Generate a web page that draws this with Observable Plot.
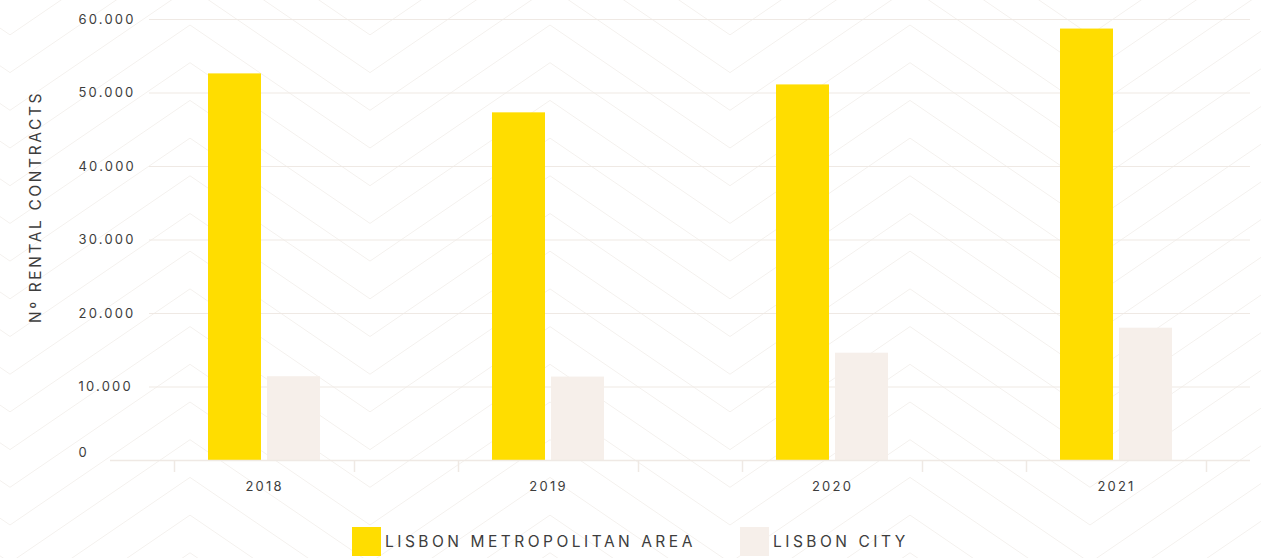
<!DOCTYPE html>
<html>
<head>
<meta charset="utf-8">
<script src="https://cdn.jsdelivr.net/npm/d3@7"></script>
<script src="https://cdn.jsdelivr.net/npm/@observablehq/plot@0.6"></script>
<style>
  html, body { margin: 0; padding: 0; }
  body {
    width: 1261px; height: 558px; overflow: hidden;
    background-color: #ffffff;
    background-position: 0 25px;
    font-family: Inter, "Noto Sans", sans-serif;
  }
  #chart svg text { letter-spacing: 2.2px; }
  #legend { display: flex; align-items: center; margin-left: 352px; margin-top: 12px; height: 29px; }
  .item { display: flex; align-items: center; }
  .swatch { width: 29px; height: 29px; flex: none; }
  .label { margin-left: 4px; font-size: 15.5px; letter-spacing: 3.5px; color: #3d3d3d; white-space: nowrap; }
</style>
</head>
<body>
<div id="chart"></div>
<div id="legend"></div>
<script>
// ---- data ----
const years = ["2018", "2019", "2020", "2021"];
const metroValues = [52600, 47300, 51100, 58700];
const cityValues = [11400, 11350, 14600, 18000];
const seriesNames = ["LISBON METROPOLITAN AREA", "LISBON CITY"];
const seriesColors = ["#FFDD00", "#F6EFEA"];
const yTicks = [0, 10000, 20000, 30000, 40000, 50000, 60000];
const yTitle = "Nº RENTAL CONTRACTS";

// ---- background chevron pattern (decoration) ----
(function () {
  let lines = "";
  for (let k = -4; k <= 14; k++) {
    const c = k * 37.7;
    lines += `<polyline points="-170,${c} 10,${c + 123} 190,${c} 370,${c + 123} 550,${c}" fill="none" stroke="#f4f1ee" stroke-width="1"/>`;
  }
  const svg = `<svg xmlns="http://www.w3.org/2000/svg" width="360" height="377" viewBox="0 0 360 377">${lines}</svg>`;
  document.body.style.backgroundImage = `url("data:image/svg+xml,${encodeURIComponent(svg)}")`;
})();

const fmt = d3.formatLocale({decimal: ",", thousands: ".", grouping: [3], currency: ["", ""]}).format(",");
const data = years.flatMap((y, i) => [
  {year: y, series: seriesNames[0], value: metroValues[i]},
  {year: y, series: seriesNames[1], value: cityValues[i]}
]);
const textColor = "#3d3d3d";
const gridColor = "#efe9e4";

const chart = Plot.plot({
  width: 1261,
  height: 515,
  marginLeft: 122,
  marginRight: 3,
  marginTop: 19,
  marginBottom: 55,
  style: {background: "transparent", fontFamily: "Inter, 'Noto Sans', sans-serif", color: textColor, overflow: "visible"},
  x: {type: "band", domain: years, padding: 0, axis: null},
  y: {domain: [0, 60000], axis: null},
  marks: [
    Plot.ruleY(yTicks.filter(d => d > 0), {y: d => d, stroke: gridColor, strokeWidth: 1.2, insetLeft: 27, insetRight: 8}),
    Plot.barY(data.filter(d => d.series === seriesNames[0]), {x: "year", y: "value", fill: seriesColors[0], insetLeft: 86, insetRight: 145}),
    Plot.barY(data.filter(d => d.series === seriesNames[1]), {x: "year", y: "value", fill: seriesColors[1], insetLeft: 145, insetRight: 86}),
    Plot.ruleY([0], {y: d => d, stroke: gridColor, strokeWidth: 1.5, insetLeft: -12, insetRight: 8}),
    Plot.ruleX(years, {x: d => d, y1: 0, y2: 0, insetBottom: -12, dx: -90, stroke: gridColor, strokeWidth: 1.5}),
    Plot.ruleX(years, {x: d => d, y1: 0, y2: 0, insetBottom: -12, dx: 90, stroke: gridColor, strokeWidth: 1.5}),
    Plot.text(yTicks.filter(d => d > 0), {y: d => d, text: d => fmt(d), frameAnchor: "left", textAnchor: "start", dx: -44, fill: textColor, fontSize: 13}),
    Plot.text([0], {y: d => d, text: d => fmt(d), frameAnchor: "left", textAnchor: "start", dx: -44, dy: -8, fill: textColor, fontSize: 13}),
    Plot.text(years, {x: d => d, y: () => 0, text: d => d, dy: 26, fill: textColor, fontSize: 13}),
    Plot.text([yTitle], {text: d => d, frameAnchor: "left", textAnchor: "middle", lineAnchor: "middle", rotate: -90, dx: -86, dy: -33, fill: textColor, fontSize: 15.5})
  ]
});
document.getElementById("chart").appendChild(chart);
d3.select(chart).selectAll("text").filter(function () { return this.textContent === yTitle; }).style("letter-spacing", "2.6px");

// ---- legend ----
const legend = d3.select("#legend");
seriesNames.forEach((name, i) => {
  const item = legend.append("div").attr("class", "item");
  if (i === 0) item.style("width", "388px");
  item.append("div").attr("class", "swatch").style("background", seriesColors[i]);
  item.append("div").attr("class", "label").text(name);
});
</script>
</body>
</html>
